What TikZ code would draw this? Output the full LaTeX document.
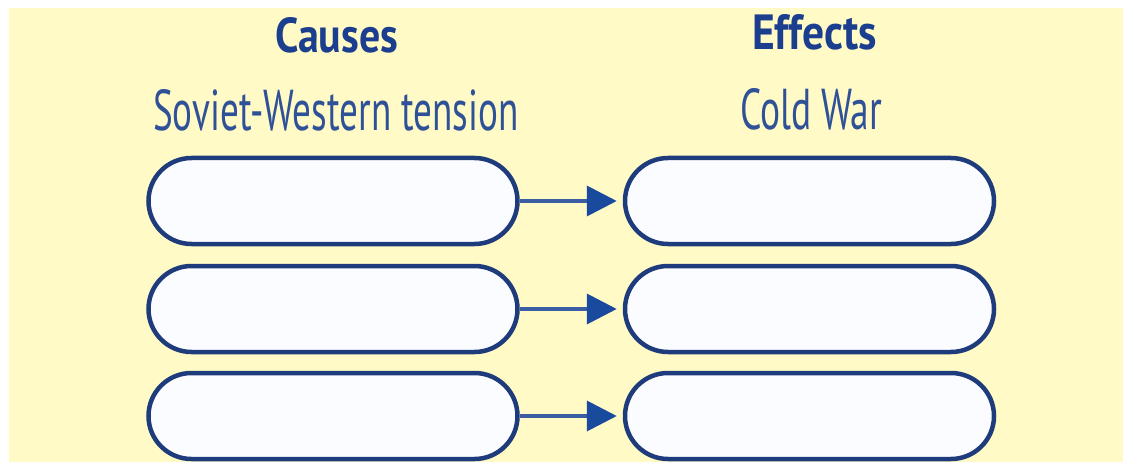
\documentclass[tikz,border=0pt]{standalone}
\usepackage{fontspec}
\setmainfont{PT Sans}
\usepackage{graphicx}
\usetikzlibrary{arrows.meta}
\definecolor{bgyellow}{HTML}{FFFAC6}
\definecolor{titleblue}{HTML}{1B3F8E}
\definecolor{subblue}{HTML}{2F5197}
\definecolor{boxblue}{HTML}{1E3B7C}
\definecolor{boxfill}{HTML}{FBFCFF}
\definecolor{arrowblue}{HTML}{3B5DA3}
\definecolor{headblue}{HTML}{1A4A9E}
\tikzset{
  pill/.style={draw=boxblue, line width=4.5pt, fill=boxfill, rounded corners=43pt,
    minimum width=369pt, minimum height=86pt, inner sep=0pt},
  link/.style={draw=arrowblue, line width=3.8pt, shorten >=6pt,
    -{Triangle[length=30pt,width=30pt,color=headblue]}},
  txt/.style={inner sep=0pt, anchor=south west}
}
\begin{document}
\begin{tikzpicture}[x=1pt,y=-1pt]
\useasboundingbox (0,0) rectangle (1123,462);
\fill[white] (0,0) rectangle (1123,462);
\fill[bgyellow] (9,8) rectangle (1123,462);
% headings
\node[txt, text=titleblue] (causes) at (275,53) {\resizebox{123pt}{35pt}{\bfseries Causes}};
\node[txt, text=subblue] (cw) at (153,131) {\resizebox{365pt}{41pt}{Soviet-Western tension}};
\node[txt, text=titleblue] (effects) at (752,50) {\resizebox{125pt}{35pt}{\bfseries Effects}};
\node[txt, text=subblue] (cold) at (740,130) {\resizebox{142pt}{41pt}{Cold War}};
% boxes
\node[pill] (c1) at (333,201) {};
\node[pill] (c2) at (333,309) {};
\node[pill] (c3) at (333,416) {};
\node[pill] (e1) at (809.5,201) {};
\node[pill] (e2) at (809.5,309) {};
\node[pill] (e3) at (809.5,416) {};
% arrows
\draw[link] (c1.east) -- (e1.west);
\draw[link] (c2.east) -- (e2.west);
\draw[link] (c3.east) -- (e3.west);
\end{tikzpicture}
\end{document}
